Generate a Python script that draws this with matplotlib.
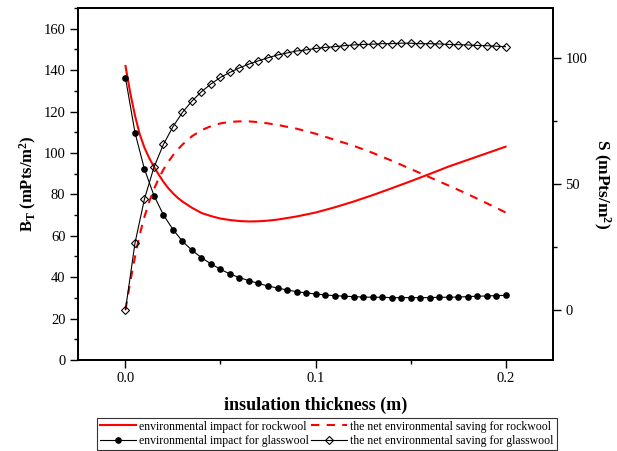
import numpy as np
import matplotlib
matplotlib.use('Agg')
import matplotlib.pyplot as plt
from matplotlib.ticker import MultipleLocator

plt.rcParams['font.family'] = ['Liberation Serif', 'DejaVu Serif']
plt.rcParams['mathtext.fontset'] = 'custom'
plt.rcParams['mathtext.rm'] = 'Liberation Serif:bold'
plt.rcParams['mathtext.it'] = 'Liberation Serif:bold'
plt.rcParams['mathtext.bf'] = 'Liberation Serif:bold'

# --- glasswool, sampled every 5 mm ---
glass_x = [i * 0.005 for i in range(41)]
glass_impact = [136.2, 109.8, 92.1, 79.4, 70.0, 63.0, 57.3, 53.0, 49.4, 46.4,
                43.8, 41.5, 39.8, 38.3, 37.0, 35.7, 34.8, 33.8, 33.0, 32.4,
                31.9, 31.4, 31.1, 30.8, 30.6, 30.4, 30.3, 30.3, 30.1, 30.1,
                30.1, 30.1, 30.1, 30.3, 30.3, 30.4, 30.6, 30.8, 30.9, 31.1, 31.2]
glass_saving = [0.0, 26.5, 44.1, 56.7, 65.8, 72.8, 78.5, 83.0, 86.7, 89.8,
                92.4, 94.4, 96.2, 97.7, 99.0, 100.2, 101.3, 102.1, 102.9, 103.3,
                103.9, 104.3, 104.6, 105.0, 105.3, 105.5, 105.6, 105.8, 105.8, 106.0,
                106.0, 105.8, 105.8, 105.7, 105.5, 105.4, 105.3, 105.1, 105.0, 104.8, 104.6]

# --- rockwool, smooth curves (no markers) ---
rock_x = [0, 0.0025, 0.005, 0.0075, 0.01, 0.0125, 0.015, 0.0175, 0.02, 0.0225,
          0.025, 0.0275, 0.03, 0.035, 0.04, 0.045, 0.05, 0.055, 0.06, 0.065,
          0.07, 0.075, 0.08, 0.09, 0.1, 0.11, 0.12, 0.13, 0.14, 0.15, 0.16,
          0.17, 0.18, 0.19, 0.2]
rock_impact = [142, 129, 118, 109, 102.5, 97.5, 93.3, 89.5, 86, 83,
               80.5, 78.3, 76.5, 73.5, 71, 69.5, 68.3, 67.6, 67.1, 66.9,
               67.0, 67.3, 67.8, 69.3, 71.2, 73.7, 76.5, 79.6, 82.9, 86.3, 89.8,
               93.4, 96.6, 99.8, 103.0]
rock_saving = [0, 11, 21, 30, 37, 43, 48, 52.2, 55.8, 58.8,
               61.4, 63.7, 65.7, 69.0, 71.4, 73.0, 74.1, 74.7, 74.9, 74.9,
               74.6, 74.1, 73.5, 72, 70.0, 67.6, 65.2, 62.4, 59.3, 56.0, 52.7,
               49.4, 46.0, 42.4, 38.7]

fig = plt.figure(figsize=(6.17, 4.51), dpi=100)
ax = fig.add_axes([0.1264, 0.2018, 0.7699, 0.7805])
ax2 = ax.twinx()

l1, = ax.plot(rock_x, rock_impact, color='red', lw=1.5,
              label='environmental impact for rockwool')
l3, = ax.plot(glass_x, glass_impact, color='black', lw=0.8, marker='o', ms=3.8,
              label='environmental impact for glasswool')
l2, = ax2.plot(rock_x, rock_saving, color='red', lw=1.5, dashes=(4, 3.5),
               label='the net environmental saving for rockwool')
l4, = ax2.plot(glass_x, glass_saving, color='black', lw=0.8, marker='D', ms=3.6,
               mfc='none', mew=0.8,
               label='the net environmental saving for glasswool')

ax.set_xlim(-0.025, 0.225)
ax.set_ylim(0, 170)
ax2.set_ylim(-20, 120)

ax.xaxis.set_major_locator(MultipleLocator(0.1))
ax.xaxis.set_minor_locator(MultipleLocator(0.05))
ax.yaxis.set_major_locator(MultipleLocator(20))
ax.yaxis.set_minor_locator(MultipleLocator(10))
ax2.yaxis.set_major_locator(MultipleLocator(50))
ax2.yaxis.set_minor_locator(MultipleLocator(25))
ax.xaxis.set_major_formatter(plt.FuncFormatter(lambda v, p: f'{v:.1f}'))

for a in (ax, ax2):
    a.tick_params(which='major', direction='out', length=5.5, width=1.0, labelsize=10.5)
    a.tick_params(which='minor', direction='out', length=3, width=1.0)
    for s in a.spines.values():
        s.set_linewidth(1.3)
ax.tick_params(top=False, right=False)

ax.set_xlabel('insulation thickness (m)', fontsize=13, fontweight='bold', labelpad=8)
ax.set_ylabel(r'B$_\mathrm{T}$ (mPts/m$^\mathrm{2}$)', fontsize=12, fontweight='bold', labelpad=3)
ax2.set_ylabel(r'S (mPts/m$^\mathrm{2}$)', fontsize=12.5, fontweight='bold',
               rotation=-90, labelpad=18)

leg = fig.legend(handles=[l1, l3, l2, l4], ncol=2, loc='lower center',
                 bbox_to_anchor=(0.53, 0.0), fontsize=8.5, frameon=True,
                 fancybox=False, edgecolor='black', handlelength=3.0,
                 handletextpad=0.3, columnspacing=0.2, borderpad=0.25,
                 labelspacing=0.2, borderaxespad=0.1)
leg.get_frame().set_linewidth(0.8)

fig.savefig('out.png', dpi=100)
